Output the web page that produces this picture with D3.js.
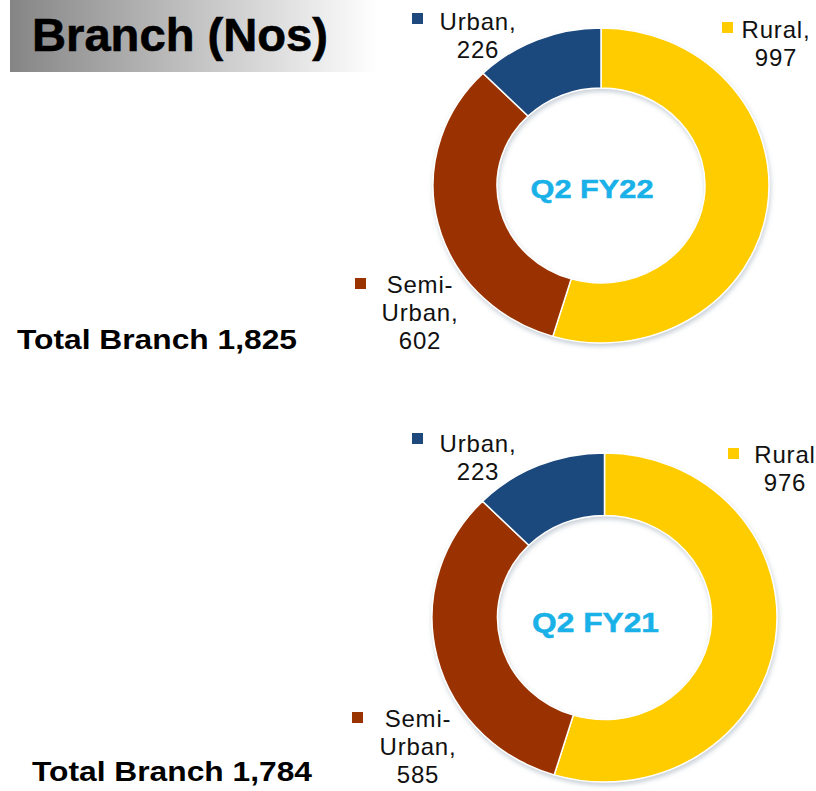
<!DOCTYPE html>
<html>
<head>
<meta charset="utf-8">
<script src="https://cdn.jsdelivr.net/npm/d3@7/dist/d3.min.js"></script>
<style>
  body { margin: 0; background: #fff; }
  text { font-family: "Liberation Sans", Arial, sans-serif; }
</style>
</head>
<body>
<div id="chart"></div>
<script>
// data
const categories = ["Rural", "Semi-Urban", "Urban"]
const labelLines = [["Rural,"], ["Semi-", "Urban,"], ["Urban,"]]
const periods = ["Q2 FY22", "Q2 FY21"]
const valuesFY22 = [997, 602, 226]
const valuesFY21 = [976, 585, 223]
const totalLabels = ["Total Branch 1,825", "Total Branch 1,784"]
const colors = ["#FFCC00", "#993300", "#1F497D"]

const width = 816, height = 791

const svg = d3.select("#chart")
  .append("svg")
    .attr("width", width)
    .attr("height", height)

const defs = svg.append("defs")
const grad = defs.append("linearGradient").attr("id", "titleGrad")
grad.append("stop").attr("offset", "0%").attr("stop-color", "#858585")
grad.append("stop").attr("offset", "100%").attr("stop-color", "#ffffff")

defs.append("filter").attr("id", "shadow")
    .attr("x", "-10%").attr("y", "-10%").attr("width", "120%").attr("height", "125%")
  .append("feDropShadow")
    .attr("dx", 1).attr("dy", 3).attr("stdDeviation", 2.5)
    .attr("flood-color", "#8899aa").attr("flood-opacity", 0.45)

// title box
svg.append("rect")
  .attr("x", 10).attr("y", 0)
  .attr("width", 368).attr("height", 72)
  .attr("fill", "url(#titleGrad)")
svg.append("text")
  .attr("x", 32).attr("y", 51)
  .attr("font-size", 47).attr("font-weight", "bold")
  .attr("stroke", "#000").attr("stroke-width", 0.6)
  .attr("textLength", 296).attr("lengthAdjust", "spacingAndGlyphs")
  .text("Branch (Nos)")

// layout of each donut (center, radii, vertical squash, label spots)
const charts = [
  {
    values: valuesFY22, period: periods[0], total: totalLabels[0],
    cx: 601, cy: 185.5, r: 168, inner: 104, sy: 0.9375,
    centerLabel: { y: 198, size: 26, len: 123 },
    totalText: { x: 17, y: 349, len: 280 },
    labels: [
      { sq: [722, 22], x: 776, y: 38, value: "997" },
      { sq: [355, 278], x: 420, y: 293, value: "602" },
      { sq: [412, 13], x: 478, y: 30, value: "226" }
    ]
  },
  {
    values: valuesFY21, period: periods[1], total: totalLabels[1],
    cx: 604.5, cy: 617.5, r: 172.5, inner: 107, sy: 0.954,
    centerLabel: { y: 632, size: 28, len: 127 },
    totalText: { x: 32, y: 781, len: 280 },
    labels: [
      { sq: [728, 448], x: 785, y: 463, value: "976", noComma: true },
      { sq: [352, 712], x: 418, y: 727, value: "585" },
      { sq: [412, 433], x: 478, y: 452, value: "223" }
    ]
  }
]

const pie = d3.pie().sort(null).value(d => d)

charts.forEach(function(c) {
  const arc = d3.arc().innerRadius(c.inner).outerRadius(c.r)

  const g = svg.append("g")
    .attr("transform", `translate(${c.cx},${c.cy}) scale(1,${c.sy})`)
    .attr("filter", "url(#shadow)")

  g.selectAll("path")
    .data(pie(c.values))
    .join("path")
      .attr("d", arc)
      .attr("fill", (d, i) => colors[i])
      .attr("stroke", "#ffffff")
      .attr("stroke-width", 1.5)

  svg.append("text")
    .attr("x", c.cx - 9).attr("y", c.centerLabel.y)
    .attr("text-anchor", "middle")
    .attr("font-size", c.centerLabel.size).attr("font-weight", "bold")
    .attr("fill", "#19B1E8")
    .attr("stroke", "#19B1E8").attr("stroke-width", 0.5)
    .attr("textLength", c.centerLabel.len).attr("lengthAdjust", "spacingAndGlyphs")
    .text(c.period)

  svg.append("text")
    .attr("x", c.totalText.x).attr("y", c.totalText.y)
    .attr("font-size", 27).attr("font-weight", "bold")
    .attr("textLength", c.totalText.len).attr("lengthAdjust", "spacingAndGlyphs")
    .text(c.total)

  // data labels with legend squares
  c.labels.forEach(function(l, i) {
    svg.append("rect")
      .attr("x", l.sq[0]).attr("y", l.sq[1])
      .attr("width", 11).attr("height", 11)
      .attr("fill", colors[i])

    let lines = labelLines[i].slice()
    if (l.noComma) lines = lines.map(s => s.replace(",", ""))
    lines.push(d3.format(",")(c.values[i]))

    const t = svg.append("text")
      .attr("text-anchor", "middle")
      .attr("font-size", 24)
      .attr("fill", "#111")
    t.selectAll("tspan")
      .data(lines)
      .join("tspan")
        .attr("x", l.x)
        .attr("y", (d, k) => l.y + k * 28)
        .attr("letter-spacing", 0.8)
        .text(d => d)
  })
})
</script>
</body>
</html>
